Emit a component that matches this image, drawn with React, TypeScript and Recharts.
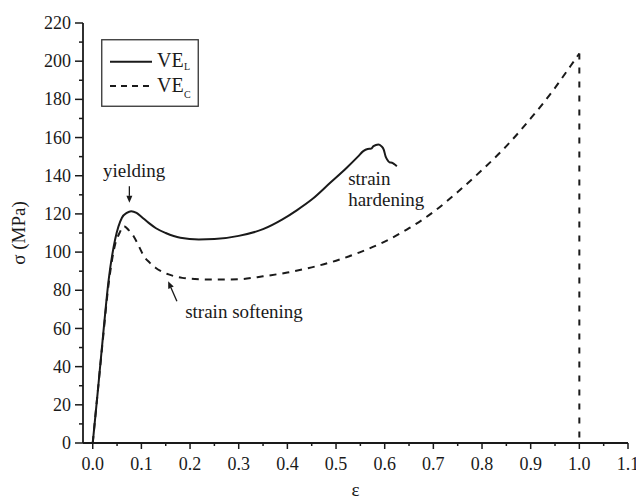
import React from 'react';
import {
  LineChart,
  Line,
  XAxis,
  YAxis,
  Legend,
  ReferenceDot,
  ReferenceLine,
} from 'recharts';

// VE_L (solid) stress-strain curve
const strainL = [0, 0.01, 0.02, 0.033, 0.046, 0.06, 0.07, 0.079, 0.09, 0.1, 0.115, 0.13, 0.15, 0.18, 0.218, 0.25, 0.3, 0.35, 0.389, 0.42, 0.45, 0.488, 0.522, 0.545, 0.556, 0.565, 0.572, 0.577, 0.587, 0.593, 0.598, 0.602, 0.605, 0.61, 0.615, 0.62, 0.625];
const stressL = [0, 26, 53, 86, 106.6, 118, 120.5, 121.4, 120.5, 118.5, 115.3, 112.5, 110, 107.5, 106.6, 106.8, 108.5, 112, 117, 122, 127.5, 136.3, 144.2, 150, 152.9, 154, 154.2, 155.5, 156.4, 155.5, 153.7, 150, 148.5, 147, 146.8, 146, 145];

// VE_C (dashed) stress-strain curve
const strainC = [0, 0.01, 0.02, 0.033, 0.046, 0.055, 0.064, 0.074, 0.084, 0.095, 0.105, 0.117, 0.129, 0.142, 0.156, 0.17, 0.184, 0.21, 0.252, 0.3, 0.35, 0.4, 0.45, 0.5, 0.55, 0.6, 0.65, 0.7, 0.75, 0.8, 0.85, 0.9, 0.95, 0.975, 1.0];
const stressC = [0, 26, 52, 84, 104, 110, 113.6, 111.5, 108.3, 103, 97.9, 94.5, 91.8, 89.8, 88.3, 87.2, 86.5, 85.9, 85.6, 85.8, 87.3, 89.3, 92, 95.5, 100, 105.5, 112.5, 121, 131.5, 143, 155.5, 170, 186, 195, 204];

// fracture drop of VE_C
const dropStrain = [1.0, 1.0];
const dropStress = [204, 0];

const xMajorTicks = [0, 0.1, 0.2, 0.3, 0.4, 0.5, 0.6, 0.7, 0.8, 0.9, 1.0, 1.1];
const xMinorTicks = [0.05, 0.15, 0.25, 0.35, 0.45, 0.55, 0.65, 0.75, 0.85, 0.95, 1.05];
const yMajorTicks = [0, 20, 40, 60, 80, 100, 120, 140, 160, 180, 200, 220];
const yMinorTicks = [10, 30, 50, 70, 90, 110, 130, 150, 170, 190, 210];

const notes = [
  { text: 'yielding', x: 0.021, y: 139.1 },
  { text: 'strain softening', x: 0.19, y: 65.7 },
  { text: 'strain', x: 0.525, y: 135.4 },
  { text: 'hardening', x: 0.525, y: 123.9 },
];
const arrows = [
  { from: { x: 0.0753, y: 134.5 }, to: { x: 0.0753, y: 125.8 } },
  { from: { x: 0.173, y: 74.3 }, to: { x: 0.155, y: 84.7 } },
];

const serif = 'Liberation Serif, DejaVu Serif, serif';
const ink = '#1a1a1a';

const toPoints = (xs: number[], ys: number[]) => xs.map((x, i) => ({ x, y: ys[i] }));

const XTick = (props: any) => {
  const { x, y, payload } = props;
  const major = xMajorTicks.includes(payload.value);
  const axisY = y - 14;
  return (
    <g>
      <line x1={x} x2={x} y1={axisY} y2={axisY + (major ? 6 : 3)} stroke={ink} strokeWidth={1.5} />
      {major && (
        <text x={x} y={y} dy="0.71em" textAnchor="middle" style={{ fontSize: 18, fontFamily: serif }} fill={ink}>
          {payload.value.toFixed(1)}
        </text>
      )}
    </g>
  );
};

const YTick = (props: any) => {
  const { x, y, payload } = props;
  const major = yMajorTicks.includes(payload.value);
  const axisX = x + 12;
  return (
    <g>
      <line x1={axisX} x2={axisX - (major ? 8 : 4)} y1={y} y2={y} stroke={ink} strokeWidth={1.5} />
      {major && (
        <text x={x} y={y} dy="0.34em" textAnchor="end" style={{ fontSize: 18, fontFamily: serif }} fill={ink}>
          {payload.value}
        </text>
      )}
    </g>
  );
};

const LegendBox = () => (
  <svg width={98} height={68} style={{ display: 'block', fontFamily: serif }}>
    <rect x={0.75} y={0.75} width={96.5} height={66.5} fill="#fff" stroke="#333" strokeWidth={1.3} />
    <line x1={9} x2={51} y1={22.7} y2={22.7} stroke={ink} strokeWidth={2} />
    <text x={56} y={27.7} style={{ fontSize: 20 }} fill={ink}>VE</text>
    <text x={83} y={31} style={{ fontSize: 10 }} fill={ink}>L</text>
    <line x1={9} x2={51} y1={47} y2={47} stroke={ink} strokeWidth={2} strokeDasharray="6 5" />
    <text x={56} y={52.7} style={{ fontSize: 20 }} fill={ink}>VE</text>
    <text x={83} y={59} style={{ fontSize: 10 }} fill={ink}>C</text>
  </svg>
);

const Arrow = (props: any) => {
  const { x1, y1, x2, y2 } = props;
  const ang = Math.atan2(y2 - y1, x2 - x1);
  const len = 7;
  const w = 3;
  const bx = x2 - len * Math.cos(ang);
  const by = y2 - len * Math.sin(ang);
  const px = -Math.sin(ang) * w;
  const py = Math.cos(ang) * w;
  return (
    <g>
      <line x1={x1} y1={y1} x2={bx} y2={by} stroke={ink} strokeWidth={1.3} />
      <polygon points={`${x2},${y2} ${bx + px},${by + py} ${bx - px},${by - py}`} fill={ink} />
    </g>
  );
};

export default function App() {
  return (
    <div style={{ position: 'absolute', left: 0, top: 0, background: '#fff', fontFamily: serif }}>
      <LineChart width={636} height={502} margin={{ top: 23, right: 8, bottom: 0, left: 0 }}>
        <XAxis
          dataKey="x"
          type="number"
          domain={[-0.02, 1.1]}
          ticks={[...xMajorTicks, ...xMinorTicks].sort((a, b) => a - b)}
          interval={0}
          allowDataOverflow
          height={59}
          tickSize={6}
          tickMargin={8}
          tickLine={false}
          tick={<XTick />}
          axisLine={{ stroke: ink, strokeWidth: 1.8 }}
          label={{ value: 'ε', position: 'insideBottom', offset: 6, fontSize: 19, fontFamily: serif, fill: ink }}
        />
        <YAxis
          dataKey="y"
          type="number"
          domain={[0, 220]}
          ticks={[...yMajorTicks, ...yMinorTicks].sort((a, b) => a - b)}
          interval={0}
          allowDataOverflow
          width={83}
          tickSize={8}
          tickMargin={4}
          tickLine={false}
          tick={<YTick />}
          axisLine={{ stroke: ink, strokeWidth: 1.8 }}
          label={{ value: 'σ (MPa)', angle: -90, position: 'center', dx: -23, fontSize: 19, fontFamily: serif, fill: ink }}
        />
        <XAxis xAxisId="top" orientation="top" type="number" domain={[-0.02, 1.1]} height={0} tick={false} tickLine={false} axisLine={{ stroke: ink, strokeWidth: 1.8 }} />
        <YAxis yAxisId="right" orientation="right" type="number" domain={[0, 220]} width={0} tick={false} tickLine={false} axisLine={{ stroke: ink, strokeWidth: 1.8 }} />
        <Legend
          layout="vertical"
          align="center"
          verticalAlign="middle"
          content={<LegendBox />}
          wrapperStyle={{ left: 101, top: 39, width: 98, height: 68 }}
        />
        <Line
          data={toPoints(strainL, stressL)}
          dataKey="y"
          name="VE_L"
          type="monotone"
          stroke={ink}
          strokeWidth={2}
          dot={false}
          isAnimationActive={false}
        />
        <Line
          data={toPoints(strainC, stressC)}
          dataKey="y"
          name="VE_C"
          type="monotone"
          stroke={ink}
          strokeWidth={2}
          strokeDasharray="7 6"
          dot={false}
          isAnimationActive={false}
        />
        <Line
          data={toPoints(dropStrain, dropStress)}
          dataKey="y"
          name="VE_C drop"
          type="linear"
          stroke={ink}
          strokeWidth={2}
          strokeDasharray="6 8"
          dot={false}
          legendType="none"
          isAnimationActive={false}
        />
        {arrows.map((a, i) => (
          <ReferenceLine key={`a${i}`} segment={[a.from, a.to]} shape={<Arrow />} ifOverflow="visible" />
        ))}
        {notes.map((n) => (
          <ReferenceDot
            key={n.text}
            x={n.x}
            y={n.y}
            r={0}
            ifOverflow="visible"
            shape={(p: any) => (
              <text x={p.cx} y={p.cy} style={{ fontSize: 19, fontFamily: serif }} fill={ink}>
                {n.text}
              </text>
            )}
          />
        ))}
      </LineChart>
    </div>
  );
}
